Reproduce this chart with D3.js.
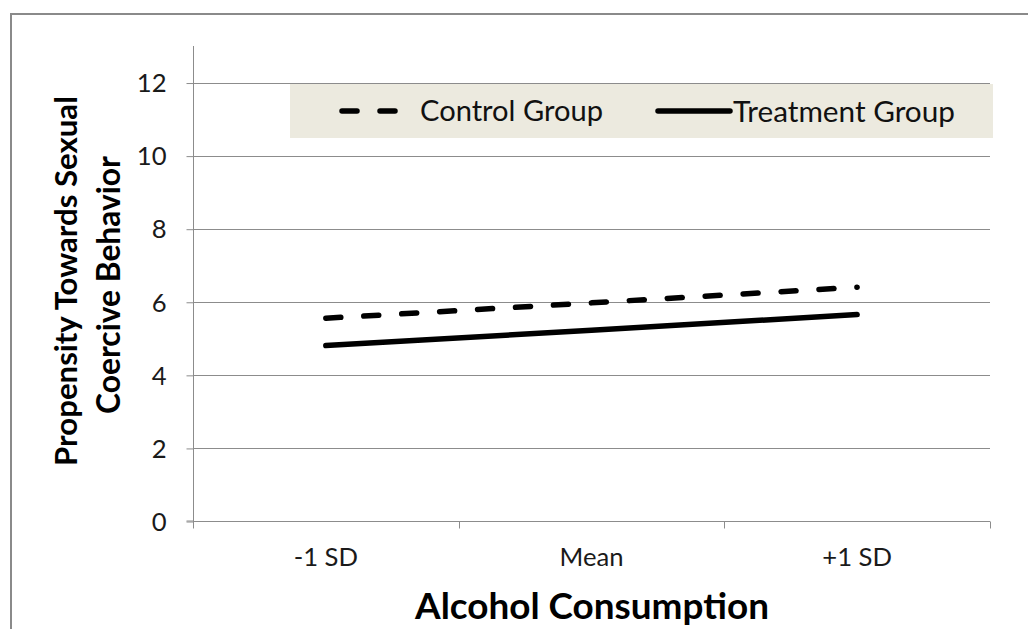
<!DOCTYPE html>
<html>
<head>
<meta charset="utf-8">
<script src="https://cdn.jsdelivr.net/npm/d3@7"></script>
<style>
  html, body { margin: 0; padding: 0; background: #fff; }
  svg { display: block; }
</style>
</head>
<body>
<svg id="chart" width="1028" height="629"></svg>
<script>
const categories = ["-1 SD", "Mean", "+1 SD"];
const controlValues = [5.55, 5.97, 6.4];
const treatmentValues = [4.8, 5.22, 5.65];
const seriesNames = ["Control Group", "Treatment Group"];
const yTicks = [0, 2, 4, 6, 8, 10, 12];
const yTitleLines = ["Propensity Towards Sexual", "Coercive Behavior"];
const xTitle = "Alcohol Consumption";

const svg = d3.select("#chart");
const W = 1028, H = 629;
const font = "Lato, 'Open Sans', sans-serif";
const plot = { left: 193, right: 990, top: 46, bottom: 521 };

// fit a text element's font size to a target width
function fit(sel, target) {
  sel.attr("font-size", 100);
  const w = sel.node().getComputedTextLength();
  const fs = 100 * target / w;
  sel.attr("font-size", fs);
  return fs;
}
function fitSize(str, target, weight) {
  const t = svg.append("text").attr("font-family", font).attr("font-weight", weight || "normal").text(str);
  const fs = fit(t, target);
  t.remove();
  return fs;
}

// outer border (top + left only visible)
svg.append("path")
  .attr("d", `M11,${H} L11,14 L${W},14`)
  .attr("fill", "none").attr("stroke", "#8a8a8a").attr("stroke-width", 2);

const x = d3.scaleBand().domain(categories).range([plot.left, plot.right]).padding(0);
const y = d3.scaleLinear().domain([0, 13]).range([plot.bottom, plot.top]);

// gridlines
svg.append("g").selectAll("line").data(yTicks.filter(d => d > 0)).join("line")
  .attr("x1", plot.left).attr("x2", plot.right)
  .attr("y1", d => Math.round(y(d)) + 0.5).attr("y2", d => Math.round(y(d)) + 0.5)
  .attr("stroke", "#8c8c8c").attr("stroke-width", 1);

// legend background
const lg = svg.append("g");
lg.append("rect").attr("x", 290).attr("y", 84).attr("width", 703).attr("height", 54)
  .attr("fill", "#ECEADF");

const tickFs = fitSize("Mean", 64);

// y axis
const yAxis = d3.axisLeft(y).tickValues(yTicks).tickSize(7).tickPadding(20).tickFormat(d3.format("d"));
const gy = svg.append("g").attr("transform", `translate(${plot.left + 0.5},0)`).call(yAxis);
gy.select(".domain").attr("stroke", "#8c8c8c").attr("d", `M-7,${plot.bottom}H0V${plot.top}`);
gy.selectAll(".tick line").attr("stroke", "#8c8c8c").attr("transform", "translate(0,0.5)");
gy.selectAll(".tick text").attr("font-family", font).attr("font-size", tickFs).attr("fill", "#1a1a1a")
  .attr("dy", "0.36em");

// x axis
const gx = svg.append("g").attr("transform", `translate(0,${plot.bottom + 0.5})`);
gx.append("line").attr("x1", plot.left).attr("x2", plot.right).attr("stroke", "#8c8c8c");
const bounds = categories.map(c => x(c)).concat([plot.right]);
gx.selectAll("line.tk").data(bounds).join("line").attr("class", "tk")
  .attr("x1", d => Math.round(d) + 0.5).attr("x2", d => Math.round(d) + 0.5)
  .attr("y1", 0).attr("y2", 7).attr("stroke", "#8c8c8c");
gx.selectAll("text").data(categories).join("text")
  .attr("x", d => x(d) + x.bandwidth() / 2).attr("y", 44)
  .attr("text-anchor", "middle").attr("font-family", font).attr("font-size", tickFs).attr("fill", "#1a1a1a")
  .text(d => d);

// lines
const line = d3.line().x((d, i) => x(categories[i]) + x.bandwidth() / 2).y(d => y(d));
svg.append("path").datum(controlValues).attr("d", line)
  .attr("fill", "none").attr("stroke", "#000").attr("stroke-width", 5.5)
  .attr("stroke-linecap", "round").attr("stroke-dasharray", "15,23");
svg.append("path").datum(treatmentValues).attr("d", line)
  .attr("fill", "none").attr("stroke", "#000").attr("stroke-width", 5.5)
  .attr("stroke-linecap", "round");

// legend items
lg.append("line").attr("x1", 342).attr("x2", 395).attr("y1", 111).attr("y2", 111)
  .attr("stroke", "#000").attr("stroke-width", 5.5).attr("stroke-linecap", "round")
  .attr("stroke-dasharray", "15,23");
const lt1 = lg.append("text").attr("x", 420).attr("font-family", font)
  .attr("fill", "#111").text(seriesNames[0]);
const f1 = fit(lt1, 183);
lt1.attr("y", 111 + 0.36 * f1);
lg.append("line").attr("x1", 658).attr("x2", 730).attr("y1", 111).attr("y2", 111)
  .attr("stroke", "#000").attr("stroke-width", 5.5).attr("stroke-linecap", "round");
const lt2 = lg.append("text").attr("x", 733).attr("font-family", font)
  .attr("fill", "#111").text(seriesNames[1]);
const f2 = fit(lt2, 222);
lt2.attr("y", 111 + 0.36 * f2);

// y title
const yg = svg.append("g").attr("transform", "translate(0,281) rotate(-90)");
const yt1 = yg.append("text").attr("x", 0).attr("y", 77).attr("text-anchor", "middle")
  .attr("font-family", font).attr("font-weight", "bold").attr("fill", "#000").text(yTitleLines[0]);
fit(yt1, 370);
const yt2 = yg.append("text").attr("x", -4).attr("y", 120).attr("text-anchor", "middle")
  .attr("font-family", font).attr("font-weight", "bold").attr("fill", "#000").text(yTitleLines[1]);
fit(yt2, 258);

// x title
const xt = svg.append("text").attr("x", 592).attr("y", 619)
  .attr("text-anchor", "middle").attr("font-family", font).attr("font-weight", "bold")
  .attr("fill", "#000").text(xTitle);
fit(xt, 354);
</script>
</body>
</html>
